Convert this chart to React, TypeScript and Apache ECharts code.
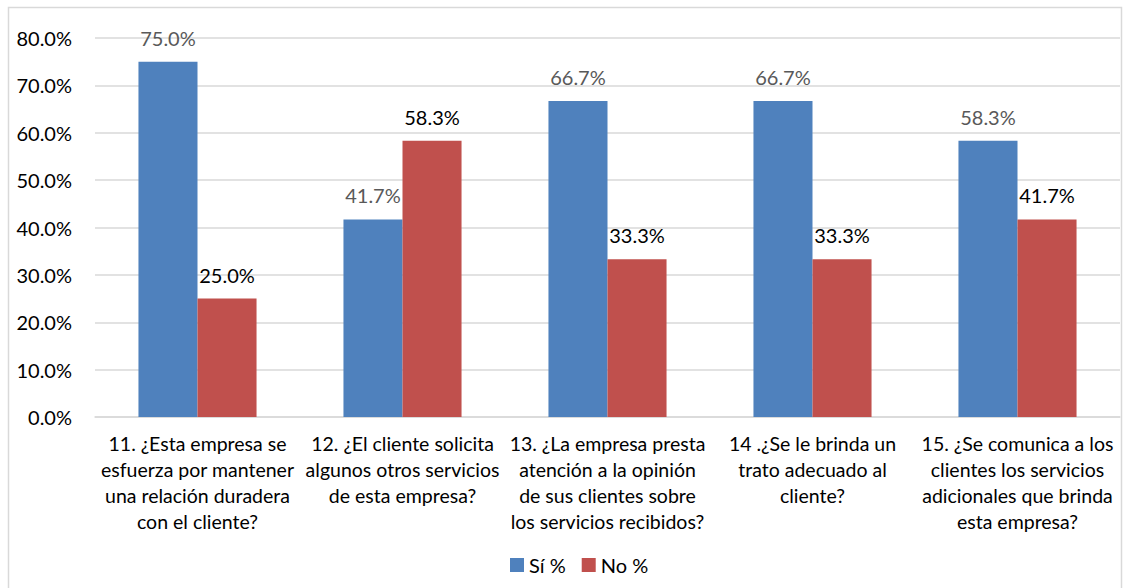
import React, { useEffect, useRef } from "react";
import * as echarts from "echarts";

const categories = [
  "11. ¿Esta empresa se\nesfuerza por mantener\nuna relación duradera\ncon el cliente?",
  "12. ¿El cliente solicita\nalgunos otros servicios\nde esta empresa?",
  "13. ¿La empresa presta\natención a la opinión\nde sus clientes sobre\nlos servicios recibidos?",
  "14 .¿Se le brinda un\ntrato adecuado al\ncliente?",
  "15. ¿Se comunica a los\nclientes los servicios\nadicionales que brinda\nesta empresa?",
];
const siValues = [75.0, 41.7, 66.7, 66.7, 58.3];
const noValues = [25.0, 58.3, 33.3, 33.3, 41.7];
const seriesNames = ["Sí %", "No %"];

const FONT = "Lato, 'Open Sans', sans-serif";

export default function App() {
  const ref = useRef<HTMLDivElement>(null);
  useEffect(() => {
    if (!ref.current) return;
    const chart = echarts.init(ref.current, undefined, { renderer: "svg" });
    chart.setOption({
      animation: false,
      textStyle: { fontFamily: FONT },
      graphic: [
        {
          type: "rect",
          shape: { x: 8.5, y: 7.5, width: 1113, height: 600 },
          style: { fill: "none", stroke: "#d9d9d9", lineWidth: 1.5 },
          silent: true,
        },
      ],
      grid: { left: 95, right: 6, top: 38, bottom: 171, containLabel: false },
      legend: {
        left: 505,
        top: 550,
        itemWidth: 14,
        itemHeight: 14,
        itemGap: 16,
        icon: "rect",
        textStyle: { fontSize: 20, color: "#000", fontFamily: FONT },
        data: seriesNames,
      },
      xAxis: {
        type: "category",
        data: categories,
        axisLine: { show: true, lineStyle: { color: "#d9d9d9", width: 1.5 } },
        axisTick: { show: false },
        axisLabel: {
          interval: 0,
          margin: 13,
          fontSize: 19.5,
          lineHeight: 26,
          color: "#000",
          fontFamily: FONT,
        },
      },
      yAxis: {
        type: "value",
        min: 0,
        max: 80,
        interval: 10,
        axisLine: { show: false },
        axisTick: { show: false },
        splitLine: { lineStyle: { color: "#d9d9d9", width: 1.5 } },
        axisLabel: {
          margin: 23,
          fontSize: 20,
          color: "#000",
          fontFamily: FONT,
          formatter: (v: number) => v.toFixed(1) + "%",
        },
      },
      series: [
        {
          name: seriesNames[0],
          type: "bar",
          data: siValues,
          barGap: "0%",
          barCategoryGap: "42.4%",
          itemStyle: { color: "#4f81bd" },
          label: {
            show: true,
            position: "top",
            distance: 14,
            fontSize: 20,
            color: "#595959",
            fontFamily: FONT,
            formatter: (p: any) => p.value.toFixed(1) + "%",
          },
        },
        {
          name: seriesNames[1],
          type: "bar",
          data: noValues,
          barGap: "0%",
          barCategoryGap: "42.4%",
          itemStyle: { color: "#c0504d" },
          label: {
            show: true,
            position: "top",
            distance: 14,
            fontSize: 20,
            color: "#000",
            fontFamily: FONT,
            formatter: (p: any) => p.value.toFixed(1) + "%",
          },
        },
      ],
    });
    return () => chart.dispose();
  }, []);
  return (
    <div
      ref={ref}
      style={{ position: "absolute", left: 0, top: 0, width: 1126, height: 588 }}
    />
  );
}
